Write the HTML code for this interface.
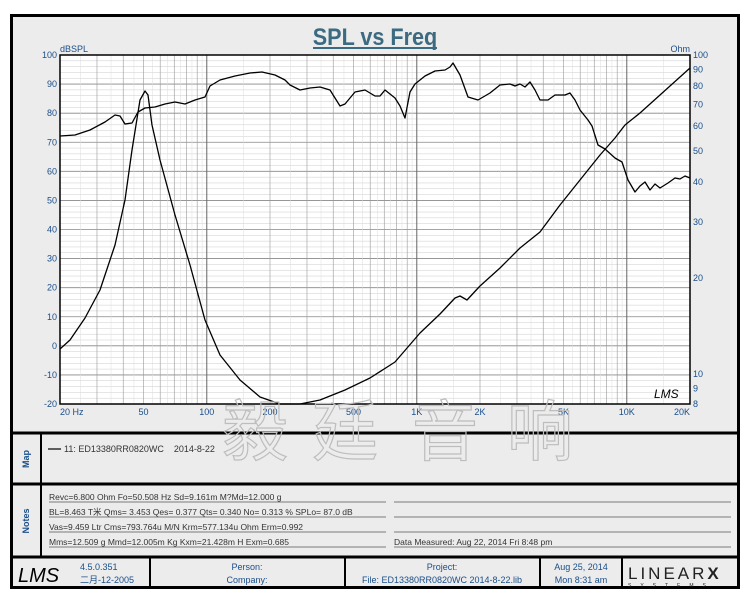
<!DOCTYPE html>
<html><head><meta charset="utf-8"><style>
html,body{margin:0;padding:0;background:#fff}
svg{display:block}
text{font-family:"Liberation Sans","Noto Sans CJK SC",sans-serif}
</style></head><body>
<svg width="750" height="600" viewBox="0 0 750 600" xmlns="http://www.w3.org/2000/svg">
<rect x="0" y="0" width="750" height="600" fill="#fff"/>
<rect x="11.5" y="15.5" width="727" height="572" fill="#ececec" stroke="#000" stroke-width="3"/>
<text x="375" y="45" text-anchor="middle" font-size="24" font-weight="bold" fill="#3c6a80" transform="translate(375,0) scale(0.9,1) translate(-375,0)">SPL vs Freq</text>
<line x1="313" y1="48" x2="437" y2="48" stroke="#3c6a80" stroke-width="2"/>
<rect x="60" y="55" width="630" height="349" fill="#fff"/>
<g id="grid" stroke="#aaa" stroke-width="0.6"></g>
<g font-size="9" fill="#1a4e8a">
<text x="60" y="52">dBSPL</text><text x="690" y="52" text-anchor="end">Ohm</text>
</g>
<g id="ylab" font-size="9" fill="#1a4e8a"></g>
<g id="xlab" font-size="9" fill="#1a4e8a"></g>
<rect x="60" y="55" width="630" height="349" fill="none" stroke="#000" stroke-width="1.5"/>
<text x="654" y="398" font-size="12" font-style="italic" font-family="Liberation Serif,serif">LMS</text>
<polyline fill="none" stroke="#000" stroke-width="1.3" stroke-linejoin="round" points="60,136 75,135 90,130 105,122 115,115 120,116 125,124 132,123 138,112 145,108 155,107 165,104 175,102 185,104 195,100 205,97 210,86 220,80 235,76 250,73 262,72 275,75 285,80 290,85 300,90 310,88 320,87 330,90 340,106 345,104 355,92 365,90 375,96 380,96 385,90 395,98 400,106 405,118 410,92 415,84 425,76 435,71 445,70 450,67 453,63 460,75 468,97 478,100 490,93 500,85 510,84 515,86 520,84 525,87 530,82 535,90 540,100 548,100 555,95 565,95 570,93 575,100 580,110 588,120 592,126 598,145 605,149 615,158 622,162 628,180 635,192 640,186 645,182 650,190 655,184 660,188 668,183 675,178 680,179 685,176 690,178"/>
<polyline fill="none" stroke="#000" stroke-width="1.3" stroke-linejoin="round" points="60,349 70,340 85,318 100,290 115,245 125,200 132,150 140,100 145,91 148,95 152,125 160,160 175,215 190,265 205,320 220,355 240,380 260,397 280,404 300,404 320,400 345,390 370,378 395,362 420,333 440,314 455,298 460,296 467,300 480,286 500,268 520,248 540,232 560,205 580,180 600,155 615,138 625,125 640,113 660,95 680,77 690,68"/>
<line x1="10" y1="433" x2="740" y2="433" stroke="#000" stroke-width="3"/>
<line x1="10" y1="484" x2="740" y2="484" stroke="#000" stroke-width="3"/>
<line x1="10" y1="557" x2="740" y2="557" stroke="#000" stroke-width="3"/>
<line x1="41" y1="433" x2="41" y2="557" stroke="#000" stroke-width="2"/>
<g font-size="66" fill="none" stroke="#bdbdbd" stroke-width="1.2" text-anchor="middle">
<text x="255" y="455">毅</text><text x="345" y="455">廷</text><text x="445" y="455">音</text><text x="540" y="455">响</text>
</g>
<text transform="translate(29,459) rotate(-90)" text-anchor="middle" font-size="9" font-weight="bold" fill="#1a4e8a">Map</text>
<text transform="translate(29,521) rotate(-90)" text-anchor="middle" font-size="9" font-weight="bold" fill="#1a4e8a">Notes</text>
<line x1="48" y1="449" x2="61" y2="449" stroke="#000" stroke-width="1.2"/>
<text x="64" y="452" font-size="9" fill="#333">11: ED13380RR0820WC&#160;&#160;&#160;&#160;2014-8-22</text>
<g font-size="8.5" fill="#333">
<text x="49" y="500">Revc=6.800 Ohm  Fo=50.508 Hz  Sd=9.161m M?Md=12.000 g</text>
<text x="49" y="515">BL=8.463 T米  Qms= 3.453  Qes= 0.377  Qts= 0.340  No= 0.313 %  SPLo= 87.0 dB</text>
<text x="49" y="530">Vas=9.459 Ltr  Cms=793.764u M/N  Krm=577.134u Ohm  Erm=0.992</text>
<text x="49" y="545">Mms=12.509 g  Mmd=12.005m Kg  Kxm=21.428m H  Exm=0.685</text>
<text x="394" y="545">Data Measured: Aug 22, 2014  Fri  8:48 pm</text>
</g>
<g stroke="#555" stroke-width="0.8">
<line x1="49" y1="502" x2="386" y2="502"/><line x1="394" y1="502" x2="731" y2="502"/>
<line x1="49" y1="517" x2="386" y2="517"/><line x1="394" y1="517" x2="731" y2="517"/>
<line x1="49" y1="532" x2="386" y2="532"/><line x1="394" y1="532" x2="731" y2="532"/>
<line x1="49" y1="547" x2="386" y2="547"/><line x1="394" y1="547" x2="731" y2="547"/>
</g>
<g stroke="#000" stroke-width="2">
<line x1="150" y1="557" x2="150" y2="588"/><line x1="345" y1="557" x2="345" y2="588"/>
<line x1="540" y1="557" x2="540" y2="588"/><line x1="622" y1="557" x2="622" y2="588"/>
</g>
<text x="18" y="582" font-size="20" font-style="italic" font-family="Liberation Serif,serif">LMS</text>
<g font-size="9" fill="#1a4e8a" text-anchor="middle">
<text x="80" y="570" text-anchor="start">4.5.0.351</text>
<text x="80" y="583" text-anchor="start">二月-12-2005</text>
<text x="247" y="570">Person:</text><text x="247" y="583">Company:</text>
<text x="442" y="570">Project:</text><text x="442" y="583">File: ED13380RR0820WC   2014-8-22.lib</text>
<text x="581" y="570">Aug 25, 2014</text><text x="581" y="583">Mon  8:31 am</text>
</g>
<text x="628" y="579" font-size="17" font-family="Liberation Serif,serif" fill="#222" letter-spacing="3">LINEAR<tspan font-weight="bold" font-family="Liberation Sans,sans-serif">X</tspan></text>
<text x="628" y="587" font-size="5" fill="#222" letter-spacing="9">SYSTEMS</text>
<script>
var g=document.getElementById('grid'),ns='http://www.w3.org/2000/svg';
function ln(x1,y1,x2,y2,c,w){var l=document.createElementNS(ns,'line');l.setAttribute('x1',x1);l.setAttribute('y1',y1);l.setAttribute('x2',x2);l.setAttribute('y2',y2);l.setAttribute('stroke',c);l.setAttribute('stroke-width',w);g.appendChild(l);}
function X(f){return 60+210*Math.log10(f/20);}
for(var d=-20;d<=100;d+=2){var y=404-(d+20)*349/120;ln(60,y,690,y,d%10==0?'#888':'#ccc',d%10==0?0.8:0.5);}
var fs=[];for(var dec=10;dec<=10000;dec*=10){for(var m=1;m<10;m++){var f=m*dec;if(f>=20&&f<=20000)fs.push(f);} }
fs.push(20000);
fs.forEach(function(f){var x=X(f);var maj=[100,1000,10000].indexOf(f)>=0;ln(x,55,x,404,maj?'#666':'#999',maj?1:0.6);});
for(var dec=10;dec<=10000;dec*=10){for(var m=1.5;m<10;m+=1){var f=m*dec;if(f>20&&f<20000){var x=X(f);ln(x,55,x,404,'#ddd',0.5);}}}
var yl=document.getElementById('ylab');
function tx(par,x,y,s,a){var t=document.createElementNS(ns,'text');t.setAttribute('x',x);t.setAttribute('y',y);t.setAttribute('text-anchor',a);t.textContent=s;par.appendChild(t);}
for(var d=-20;d<=100;d+=10){tx(yl,57,404-(d+20)*349/120+3,d,'end');}
[8,9,10,20,30,40,50,60,70,80,90,100].forEach(function(o){var y=55+Math.log10(100/o)*319;if(y>404)y=404;tx(yl,693,y+3,o,'start');});
var xl=document.getElementById('xlab');
[[20,'20  Hz'],[50,'50'],[100,'100'],[200,'200'],[500,'500'],[1000,'1K'],[2000,'2K'],[5000,'5K'],[10000,'10K'],[20000,'20K']].forEach(function(p){var x=X(p[0]);tx(xl,x,415,p[1],p[0]==20?'start':(p[0]==20000?'end':'middle'));});
</script>
</svg>
</body></html>
